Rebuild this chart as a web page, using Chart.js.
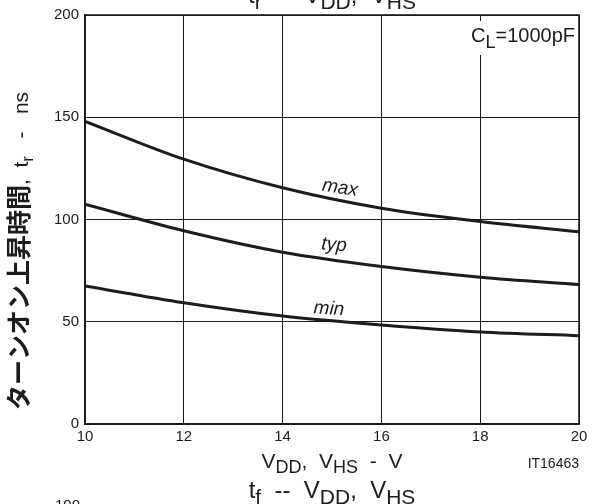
<!DOCTYPE html>
<html>
<head>
<meta charset="utf-8">
<script src="https://cdn.jsdelivr.net/npm/chart.js@4/dist/chart.umd.min.js"></script>
<style>
  html, body { margin: 0; padding: 0; background: #fff; }
  #wrap { width: 595px; height: 504px; }
</style>
</head>
<body>
<div id="wrap"><canvas id="grafico" width="595" height="504"></canvas></div>
<script>
// Dados (tr x VDD, CL = 1000pF)
const vdd = [10, 12, 14, 16, 18, 20];
const trMax = [148, 129.5, 115.5, 105.5, 99, 94];
const trTyp = [107.5, 94.5, 84, 77, 71.8, 68.2];
const trMin = [67.5, 59.3, 52.8, 48.4, 45, 43.2];
const curveLabels = ['max', 'typ', 'min'];
const xTicks = [10, 12, 14, 16, 18, 20];
const yTicks = [0, 50, 100, 150, 200];

const SANS = '"Liberation Sans", Arial, sans-serif';
const INK = '#1c1c1c';

// Desenha texto com partes (subscritos etc.)
function drawRich(ctx, parts, x, y, align) {
    let total = 0;
    parts.forEach(p => { ctx.font = p.font; p.w = ctx.measureText(p.t).width; total += p.w; });
    let cx = align === 'center' ? x - total / 2 : (align === 'right' ? x - total : x);
    ctx.textAlign = 'left';
    ctx.textBaseline = 'alphabetic';
    parts.forEach(p => {
        ctx.font = p.font;
        ctx.fillText(p.t, cx, y + (p.dy || 0));
        cx += p.w;
    });
}

function titleParts(sub, size) {
    const f = size + 'px ' + SANS;
    const s = Math.round(size * 0.88) + 'px ' + SANS;
    return [
        { t: 't', font: f }, { t: sub, font: s, dy: 6 },
        { t: '  --  V', font: f }, { t: 'DD', font: s, dy: 6 },
        { t: ',  V', font: f }, { t: 'HS', font: s, dy: 6 }
    ];
}

const anotacoes = {
    id: 'anotacoes',
    beforeDraw(chart) {
        const ctx = chart.ctx;
        ctx.save();
        ctx.fillStyle = '#fff';
        ctx.fillRect(0, 0, chart.width, chart.height);
        ctx.restore();
    },
    afterDatasetsDraw(chart) {
        const ctx = chart.ctx;
        const a = chart.chartArea;
        ctx.save();

        // moldura
        ctx.strokeStyle = INK;
        ctx.lineWidth = 1.6;
        ctx.strokeRect(a.left, a.top, a.right - a.left, a.bottom - a.top);

        // CL=1000pF com fundo branco
        ctx.fillStyle = '#fff';
        ctx.fillRect(458, 21, 118, 34);
        ctx.fillStyle = INK;
        drawRich(ctx, [
            { t: 'C', font: '20px ' + SANS },
            { t: 'L', font: '18px ' + SANS, dy: 6 },
            { t: '=1000pF', font: '20px ' + SANS }
        ], 575, 42, 'right');

        // rótulos das curvas
        const lbl = [
            { t: curveLabels[0], x: 340, y: 188, r: 0.15 },
            { t: curveLabels[1], x: 334, y: 245, r: 0.08 },
            { t: curveLabels[2], x: 329, y: 309, r: 0.07 }
        ];
        ctx.font = 'italic 19px ' + SANS;
        ctx.textAlign = 'center';
        ctx.textBaseline = 'middle';
        lbl.forEach(l => {
            ctx.save();
            ctx.translate(l.x, l.y);
            ctx.rotate(l.r);
            ctx.fillText(l.t, 0, 0);
            ctx.restore();
        });

        // título do eixo x
        const f21 = '21px ' + SANS, s18 = '18px ' + SANS;
        drawRich(ctx, [
            { t: 'V', font: f21 }, { t: 'DD', font: s18, dy: 5 },
            { t: ',  V', font: f21 }, { t: 'HS', font: s18, dy: 5 },
            { t: '  -  V', font: f21 }
        ], (a.left + a.right) / 2, 468, 'center');

        ctx.font = '14px ' + SANS;
        ctx.textAlign = 'right';
        ctx.fillText('IT16463', a.right, 468);

        // títulos (tr em cima cortado, tf embaixo)
        drawRich(ctx, titleParts('r', 24), (a.left + a.right) / 2, 3, 'center');
        drawRich(ctx, titleParts('f', 24), (a.left + a.right) / 2, 498, 'center');

        // pedaço do próximo gráfico
        ctx.font = '15px ' + SANS;
        ctx.textAlign = 'right';
        ctx.fillText('100', 80, 510);

        // título do eixo y
        ctx.translate(20, 251);
        ctx.rotate(-Math.PI / 2);
        drawRich(ctx, [
            { t: 'ターンオン上昇時間', font: 'bold 25px "Noto Sans CJK JP", sans-serif' },
            { t: ',  t', font: '21px ' + SANS },
            { t: 'r', font: '17px ' + SANS, dy: 5 },
            { t: '   -   ns', font: '21px ' + SANS }
        ], 0, 8, 'center');

        ctx.restore();
    }
};

const ctx = document.getElementById('grafico').getContext('2d');

const serie = (dados) => ({
    data: vdd.map((v, i) => ({ x: v, y: dados[i] })),
    borderColor: INK,
    borderWidth: 3,
    pointRadius: 0,
    fill: false,
    cubicInterpolationMode: 'monotone'
});

const grafico = new Chart(ctx, {
    type: 'line',
    data: {
        datasets: [serie(trMax), serie(trTyp), serie(trMin)]
    },
    options: {
        responsive: false,
        animation: false,
        devicePixelRatio: 1,
        layout: { padding: { left: 0, right: 16, top: 15, bottom: 0 } },
        plugins: { legend: { display: false }, tooltip: { enabled: false } },
        scales: {
            x: {
                type: 'linear',
                min: 10, max: 20,
                afterBuildTicks: s => { s.ticks = xTicks.map(v => ({ value: v })); },
                afterFit: s => { s.height = 80; },
                grid: { color: INK, lineWidth: 1, drawTicks: false },
                border: { color: INK, width: 1.6 },
                ticks: { color: INK, padding: 4, font: { family: SANS, size: 15 } }
            },
            y: {
                min: 0, max: 200,
                afterBuildTicks: s => { s.ticks = yTicks.map(v => ({ value: v })); },
                afterFit: s => { s.width = 85; },
                grid: { color: INK, lineWidth: 1, drawTicks: false },
                border: { color: INK, width: 1.6 },
                ticks: { color: INK, padding: 6, font: { family: SANS, size: 15 } }
            }
        }
    },
    plugins: [anotacoes]
});
</script>
</body>
</html>
